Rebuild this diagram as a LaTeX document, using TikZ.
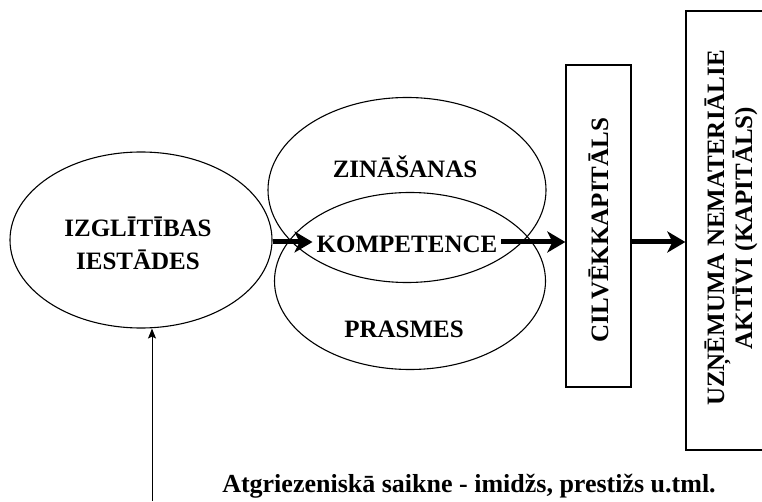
\documentclass[tikz,border=0pt]{standalone}
\usepackage{fontspec}
\setmainfont{Liberation Serif}
\usetikzlibrary{arrows.meta,shapes.geometric}
\begin{document}
\begin{tikzpicture}[x=1pt,y=1pt,
  lbl/.style={font=\bfseries\fontsize{25}{33}\selectfont, inner sep=0pt},
  oval/.style={draw, ellipse, line width=1.1pt, inner sep=0pt},
  boxx/.style={draw, rectangle, line width=1.3pt, inner sep=0pt},
  bigarrow/.style={line width=5pt, -{Stealth[length=18pt,width=21pt,inset=5pt]}},
  thinarrow/.style={line width=1pt, -{Stealth[length=10pt,width=8pt,inset=2pt]}}]
\useasboundingbox (0,0) rectangle (762,501);
% ellipses
\node[oval, minimum width=262pt, minimum height=176pt] (izgl) at (141,261) {};
\node[oval, minimum width=278pt, minimum height=185pt] (zin) at (407,311) {};
\node[oval, minimum width=271pt, minimum height=177pt] (pras) at (410,220) {};
% boxes
\node[boxx, minimum width=65pt, minimum height=322pt] (cilv) at (598.5,275) {};
\node[boxx, minimum width=150pt, minimum height=439pt] (uzn) at (761,270.5) {};
% texts
\node[lbl, align=center] (izgltxt) at (138,258) {IZGLĪTĪBAS\\IESTĀDES};
\node[lbl] (zintxt) at (405,334) {ZINĀŠANAS};
\node[lbl] (prastxt) at (404,172) {PRASMES};
\node[lbl, inner xsep=4pt] (komp) at (407,257) {KOMPETENCE};
\node[lbl, rotate=90] (cilvtxt) at (598.5,271) {CILVĒKKAPITĀLS};
\node[lbl, rotate=90, align=center, font=\bfseries\fontsize{25}{28}\selectfont] (uzntxt) at (731,273) {UZŅĒMUMA NEMATERIĀLIE\\AKTĪVI (KAPITĀLS)};
\node[lbl, font=\bfseries\fontsize{26}{30}\selectfont, anchor=base] (fbtxt) at (469,9) {Atgriezeniskā saikne - imidžs, prestižs u.tml.};
% connectors
\coordinate (ay) at (0,259);
\draw[bigarrow] (izgl.east |- ay) -- (komp.west |- ay);
\draw[bigarrow] (komp.east |- ay) -- (cilv.west |- ay);
\draw[bigarrow] (cilv.east |- ay) -- (uzn.west |- ay);
\coordinate (fb) at (152,0);
\draw[thinarrow] (fb) -- (fb |- izgl.south);
\end{tikzpicture}
\end{document}
